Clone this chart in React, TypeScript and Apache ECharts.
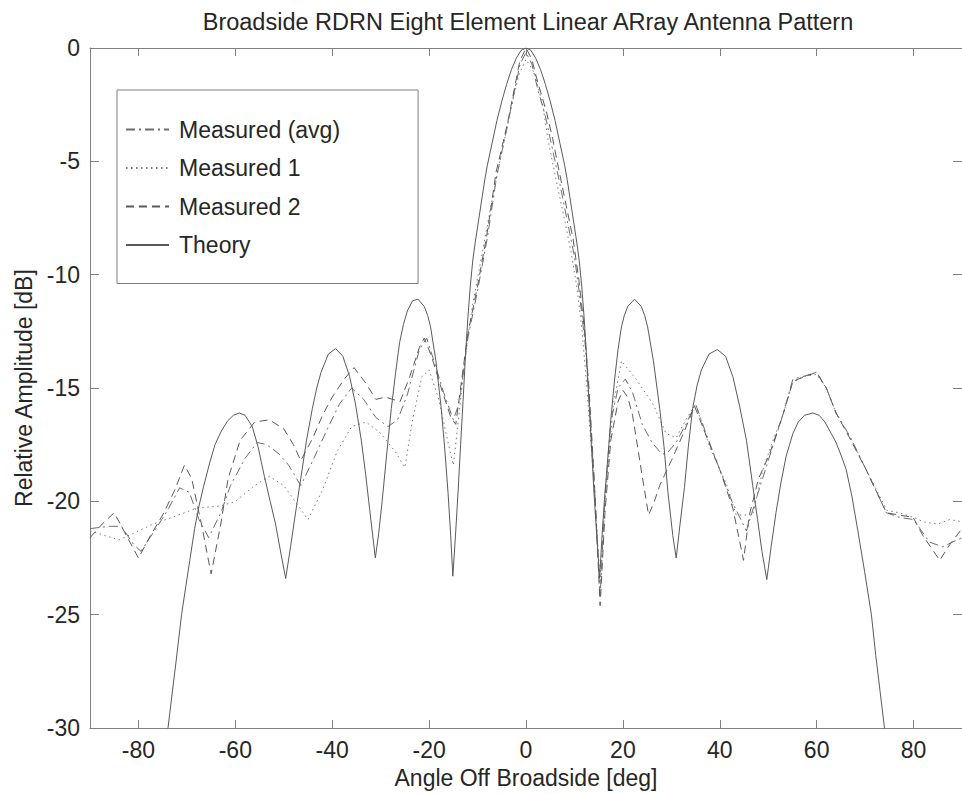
import React, { useEffect, useRef } from "react";
import * as echarts from "echarts";

const TITLE = "Broadside RDRN Eight Element Linear ARray Antenna Pattern";
const X_NAME = "Angle Off Broadside [deg]";
const Y_NAME = "Relative Amplitude [dB]";
const X_TICKS = [-80, -60, -40, -20, 0, 20, 40, 60, 80];
const Y_TICKS = [-30, -25, -20, -15, -10, -5, 0];
const NAMES = ["Measured (avg)", "Measured 1", "Measured 2", "Theory"];

// [angle deg, amplitude dB]
const theory: number[][] = [
  [-75.5, -33.5], [-73.9, -30.0], [-73.0, -28.4], [-72.2, -27.0], [-71.1, -25.0], [-70.4, -24.0],
  [-69.4, -22.6], [-68.4, -21.2], [-67.5, -20.2], [-66.5, -19.3], [-65.3, -18.3], [-64.2, -17.5],
  [-62.9, -16.9], [-61.6, -16.45], [-60.4, -16.2], [-59.2, -16.1], [-58.0, -16.2], [-56.5, -16.7],
  [-55.3, -17.6], [-54.0, -18.9], [-52.8, -20.0], [-51.7, -21.0], [-50.5, -22.4], [-49.6, -23.4],
  [-48.6, -22.0], [-47.5, -20.4], [-46.5, -19.0], [-45.3, -17.3], [-44.1, -15.9], [-43.2, -15.0],
  [-42.3, -14.3], [-40.8, -13.5], [-39.3, -13.26], [-37.8, -13.6], [-36.4, -14.5], [-35.2, -15.7],
  [-34.0, -17.3], [-33.1, -18.8], [-32.3, -20.3], [-31.1, -22.5], [-30.4, -21.4], [-29.7, -20.0],
  [-28.7, -17.8], [-27.8, -15.9], [-26.9, -14.3], [-26.1, -13.0], [-25.3, -12.2], [-24.5, -11.6],
  [-23.4, -11.15], [-22.3, -11.08], [-21.0, -11.4], [-20.3, -11.8], [-19.7, -12.3], [-18.6, -13.8],
  [-17.5, -15.9], [-16.8, -17.6], [-16.1, -19.6], [-15.6, -21.3], [-15.1, -23.3], [-14.5, -21.3],
  [-14.0, -19.5], [-13.5, -17.5], [-13.0, -15.6], [-12.5, -13.6], [-12.0, -11.9], [-11.5, -10.5],
  [-11.0, -9.4], [-10.5, -8.6], [-10.0, -7.9], [-9.5, -7.2], [-9.0, -6.5], [-8.5, -5.8], [-8.0, -5.2],
  [-7.0, -4.2], [-6.0, -3.2], [-5.0, -2.35], [-4.0, -1.6], [-3.0, -0.95], [-2.0, -0.45], [-1.0, -0.1],
  [0, 0], [1.0, -0.1], [2.0, -0.45], [3.0, -0.95], [4.0, -1.6], [5.0, -2.35], [6.0, -3.2], [7.0, -4.2],
  [8.0, -5.2], [8.5, -5.8], [9.0, -6.5], [9.5, -7.2], [10.0, -7.9], [10.5, -8.6], [11.0, -9.4],
  [11.5, -10.5], [12.0, -11.9], [12.5, -13.6], [13.0, -15.6], [13.5, -17.5], [14.0, -19.5],
  [14.6, -21.5], [15.2, -23.4], [15.7, -21.5], [16.2, -19.9], [16.7, -18.6], [17.5, -16.4],
  [18.3, -14.6], [19.0, -13.3], [19.7, -12.3], [20.3, -11.8], [21.0, -11.4], [22.4, -11.08],
  [23.8, -11.4], [24.5, -11.8], [25.1, -12.3], [26.3, -13.8], [27.6, -15.9], [28.5, -17.6],
  [29.3, -19.6], [30.3, -21.5], [31.0, -22.5], [31.8, -21.0], [32.7, -19.4], [33.5, -17.6],
  [34.4, -15.9], [35.3, -14.9], [36.2, -14.2], [37.8, -13.5], [39.5, -13.3], [41.2, -13.6],
  [42.7, -14.5], [44.1, -15.8], [45.5, -17.3], [46.8, -19.3], [47.8, -20.8], [48.7, -22.2],
  [49.7, -23.45], [50.6, -22.0], [51.6, -20.5], [52.6, -19.2], [53.7, -18.0], [55.1, -17.0],
  [56.2, -16.5], [57.5, -16.2], [59.2, -16.1], [60.5, -16.2], [61.7, -16.5], [63.0, -17.0],
  [64.0, -17.4], [65.1, -18.0], [66.1, -18.6], [67.3, -19.8], [68.5, -21.3], [69.9, -23.1],
  [71.3, -25.0], [72.2, -26.8], [73.1, -28.4], [74.0, -30.0], [75.5, -33.5],
];

const measuredAvg: number[][] = [
  [-90, -21.2], [-86, -21.1], [-83.5, -21.1], [-81, -21.9], [-79.5, -22.2], [-77, -21.4],
  [-74, -20.4], [-71.5, -19.4], [-69.5, -19.6], [-67.5, -20.8], [-65.5, -21.6], [-63, -20.5],
  [-61, -19.3], [-58, -18.1], [-55.5, -17.4], [-53.5, -17.5], [-51, -17.9], [-49, -18.4],
  [-46.5, -19.3], [-44, -18.2], [-41, -16.8], [-38.5, -15.7], [-36, -15.0], [-33.5, -15.5],
  [-31, -16.3], [-28.5, -16.7], [-26.5, -16.4], [-24.5, -15.3], [-22, -13.3], [-20.5, -12.8],
  [-19, -13.8], [-17, -15.2], [-15, -16.4], [-14, -15.8], [-13.5, -15.2], [-12, -12.8],
  [-10, -10.7], [-8, -8.4], [-6, -5.6], [-4, -3.6], [-2.5, -2.0], [-1.2, -0.7], [0, -0.2],
  [1.2, -0.7], [2.4, -1.8], [4, -3.0], [5.5, -4.5], [7, -6.0], [8.5, -7.6], [10, -9.2],
  [11, -10.8], [12.2, -13.0], [13.2, -16.0], [14.3, -20.0], [15.3, -24.2], [16.3, -19.8],
  [17.5, -16.5], [19, -15.0], [20.5, -14.6], [22, -15.2], [24, -16.6], [26, -17.4], [28, -17.9],
  [29, -17.9], [31, -17.4], [33, -16.6], [35, -15.7], [37.5, -17.2], [40, -18.6], [42.5, -20.0],
  [45.5, -21.3], [47.5, -19.9], [50.3, -18.0], [53, -16.2], [55.1, -14.6], [57.1, -14.5],
  [59.9, -14.3], [62, -15.0], [64, -16.1], [66.8, -17.1], [70.2, -18.6], [74.4, -20.5],
  [77, -20.7], [80, -20.8], [83.3, -21.8], [86, -22.0], [90, -21.6],
];

const measured1: number[][] = [
  [-90, -21.3], [-87, -21.5], [-84, -21.7], [-80, -21.3], [-77, -21.0], [-73, -20.7],
  [-68, -20.3], [-63, -20.2], [-60, -20.0], [-56, -19.3], [-53, -18.9], [-50, -19.3],
  [-47, -20.2], [-45, -20.8], [-42, -19.5], [-39, -17.8], [-36, -16.7], [-33, -16.5],
  [-30, -17.0], [-27, -17.8], [-25, -18.5], [-23.5, -16.5], [-21.5, -14.5], [-20, -14.2],
  [-18, -15.5], [-16, -17.5], [-15, -18.4], [-14, -16.5], [-12.5, -13.5], [-11, -11.3],
  [-9, -9.0], [-7, -6.7], [-5, -4.6], [-3, -2.6], [-1.5, -1.2], [0, -0.5], [1.75, -1.1],
  [3.5, -2.56], [4.5, -4.0], [5.9, -5.5], [7.6, -7.2], [9.3, -9.0], [10.4, -10.4], [11.5, -12.3],
  [12.5, -14.8], [13.8, -18.5], [15.3, -23.5], [16.5, -19.5], [18, -15.8], [19.7, -13.8],
  [22.7, -14.6], [26.2, -15.7], [28.9, -17.0], [31, -17.2], [33, -16.4], [35, -15.7],
  [37.9, -17.6], [41.3, -19.2], [43.4, -20.6], [46.8, -20.6], [48.9, -18.6], [51, -17.3],
  [53, -16.2], [55, -14.8], [57, -14.5], [60, -14.4], [62, -15.0], [64, -16.1], [67, -17.2],
  [70, -18.5], [74.5, -20.4], [77, -20.5], [80, -20.7], [82, -20.9], [85, -21.0], [87.5, -20.8],
  [90, -20.9],
];

const measured2: number[][] = [
  [-90, -21.6], [-87.5, -21.0], [-85, -20.5], [-82.5, -21.5], [-80, -22.5], [-77.5, -21.5],
  [-75, -20.6], [-72.5, -19.5], [-70.5, -18.4], [-69, -19.0], [-67, -21.0], [-65, -23.2],
  [-63, -21.0], [-61.5, -19.0], [-59, -17.3], [-56, -16.5], [-53, -16.4], [-50, -16.8],
  [-48, -17.5], [-46.5, -18.2], [-44, -17.2], [-42, -16.2], [-40, -15.4], [-37.5, -14.6],
  [-35.5, -14.1], [-33, -14.8], [-31, -15.5], [-29, -15.4], [-27.5, -15.5], [-26, -15.6],
  [-24, -14.5], [-22, -13.2], [-21, -12.8], [-19.5, -13.6], [-17.5, -15.0], [-15.5, -16.3],
  [-14.5, -16.6], [-13.5, -15.0], [-12, -12.6], [-10, -10.5], [-8.2, -8.4], [-7.2, -7.0],
  [-6.2, -5.5], [-5.1, -4.5], [-3.8, -3.3], [-2.4, -1.8], [-1.3, -0.6], [0, 0], [1.2, -0.5],
  [2.4, -1.5], [4.2, -2.8], [5.5, -4.0], [6.9, -5.5], [8.3, -6.95], [9.7, -8.4], [10.9, -10.2],
  [12, -12.3], [13, -15.0], [14.2, -19.5], [15.3, -24.6], [16.3, -20.5], [17.5, -17.3],
  [19, -15.6], [20, -15.1], [21, -15.4], [22, -16.2], [24, -18.9], [25.3, -20.6], [26.5, -20.0],
  [27.6, -19.3], [30, -18.2], [32.5, -17.0], [34.8, -15.8], [37.2, -17.1], [40, -18.6],
  [42.7, -20.3], [44.9, -22.6], [46.1, -20.6], [48, -19.0], [50.3, -17.9], [53, -16.2],
  [55.1, -14.7], [57.5, -14.5], [60, -14.3], [62, -15.0], [64, -16.1], [66.8, -17.2],
  [70.2, -18.6], [74.4, -20.5], [77, -20.6], [79.9, -20.7], [81.9, -21.5], [83.5, -22.0],
  [85.4, -22.6], [87.5, -21.9], [90, -21.2],
];

const FONT = "'Liberation Sans', Arial, Helvetica, sans-serif";
const AXIS_GRAY = "#808080";
const TEXT = "#262626";

export default function App() {
  const ref = useRef<HTMLDivElement>(null);
  useEffect(() => {
    if (!ref.current) return;
    const chart = echarts.init(ref.current, null, { renderer: "svg" });
    const baseX = {
      type: "value" as const,
      min: -90,
      max: 90,
      splitLine: { show: false },
      axisLine: { show: true, onZero: false, lineStyle: { color: AXIS_GRAY, width: 1 } },
      axisTick: { show: true, inside: true, length: 8, customValues: X_TICKS, lineStyle: { color: AXIS_GRAY } },
    };
    const baseY = {
      type: "value" as const,
      min: -30,
      max: 0,
      interval: 5,
      splitLine: { show: false },
      axisLine: { show: true, onZero: false, lineStyle: { color: AXIS_GRAY, width: 1 } },
      axisTick: { show: true, inside: true, length: 9, customValues: Y_TICKS, lineStyle: { color: AXIS_GRAY } },
    };
    const mk = (name: string, data: number[][], type: any, color: string) => ({
      name,
      type: "line",
      data,
      showSymbol: false,
      symbol: "none",
      xAxisIndex: 0,
      yAxisIndex: 0,
      lineStyle: { color, width: 1, type },
      itemStyle: { color },
      z: 2,
    });
    chart.setOption({
      animation: false,
      backgroundColor: "#ffffff",
      textStyle: { fontFamily: FONT },
      title: {
        text: TITLE,
        left: 523,
        top: 5,
        textAlign: "center",
        textStyle: { fontFamily: FONT, fontSize: 23.5, fontWeight: "normal", color: TEXT },
      },
      legend: {
        data: NAMES,
        orient: "vertical",
        left: 117,
        top: 90,
        backgroundColor: "#ffffff",
        borderColor: AXIS_GRAY,
        borderWidth: 1,
        padding: [28, 78, 27, 8],
        itemWidth: 43,
        itemHeight: 14,
        itemGap: 15.5,
        selectedMode: false,
        itemStyle: { opacity: 0, borderWidth: 0 },
        textStyle: { fontFamily: FONT, fontSize: 23, color: TEXT, padding: [0, 0, 0, 5] },
      },
      grid: { left: 90, top: 48, width: 872, height: 687, containLabel: false },
      xAxis: [
        {
          ...baseX,
          position: "bottom",
          name: X_NAME,
          nameLocation: "middle",
          nameGap: 34,
          nameTextStyle: { fontFamily: FONT, fontSize: 23, color: TEXT },
          axisLabel: { show: true, customValues: X_TICKS, margin: 10, fontFamily: FONT, fontSize: 23, color: TEXT },
        },
        { ...baseX, position: "top", axisLabel: { show: false } },
      ],
      yAxis: [
        {
          ...baseY,
          position: "left",
          name: Y_NAME,
          nameLocation: "middle",
          nameGap: 49,
          nameTextStyle: { fontFamily: FONT, fontSize: 23, color: TEXT },
          axisLabel: { show: true, customValues: Y_TICKS, margin: 10, fontFamily: FONT, fontSize: 23, color: TEXT },
        },
        { ...baseY, position: "right", axisLabel: { show: false } },
      ],
      series: [
        mk(NAMES[0], measuredAvg, [9, 4, 2, 4], "#6e6e6e"),
        mk(NAMES[1], measured1, [1.5, 3.5], "#7a7a7a"),
        mk(NAMES[2], measured2, [8, 5], "#5a5a5a"),
        mk(NAMES[3], theory, "solid", "#5a5a5a"),
      ],
    });
    return () => chart.dispose();
  }, []);
  return (
    <div
      ref={ref}
      style={{ position: "absolute", left: 0, top: 0, width: 962, height: 794, background: "#fff" }}
    />
  );
}
